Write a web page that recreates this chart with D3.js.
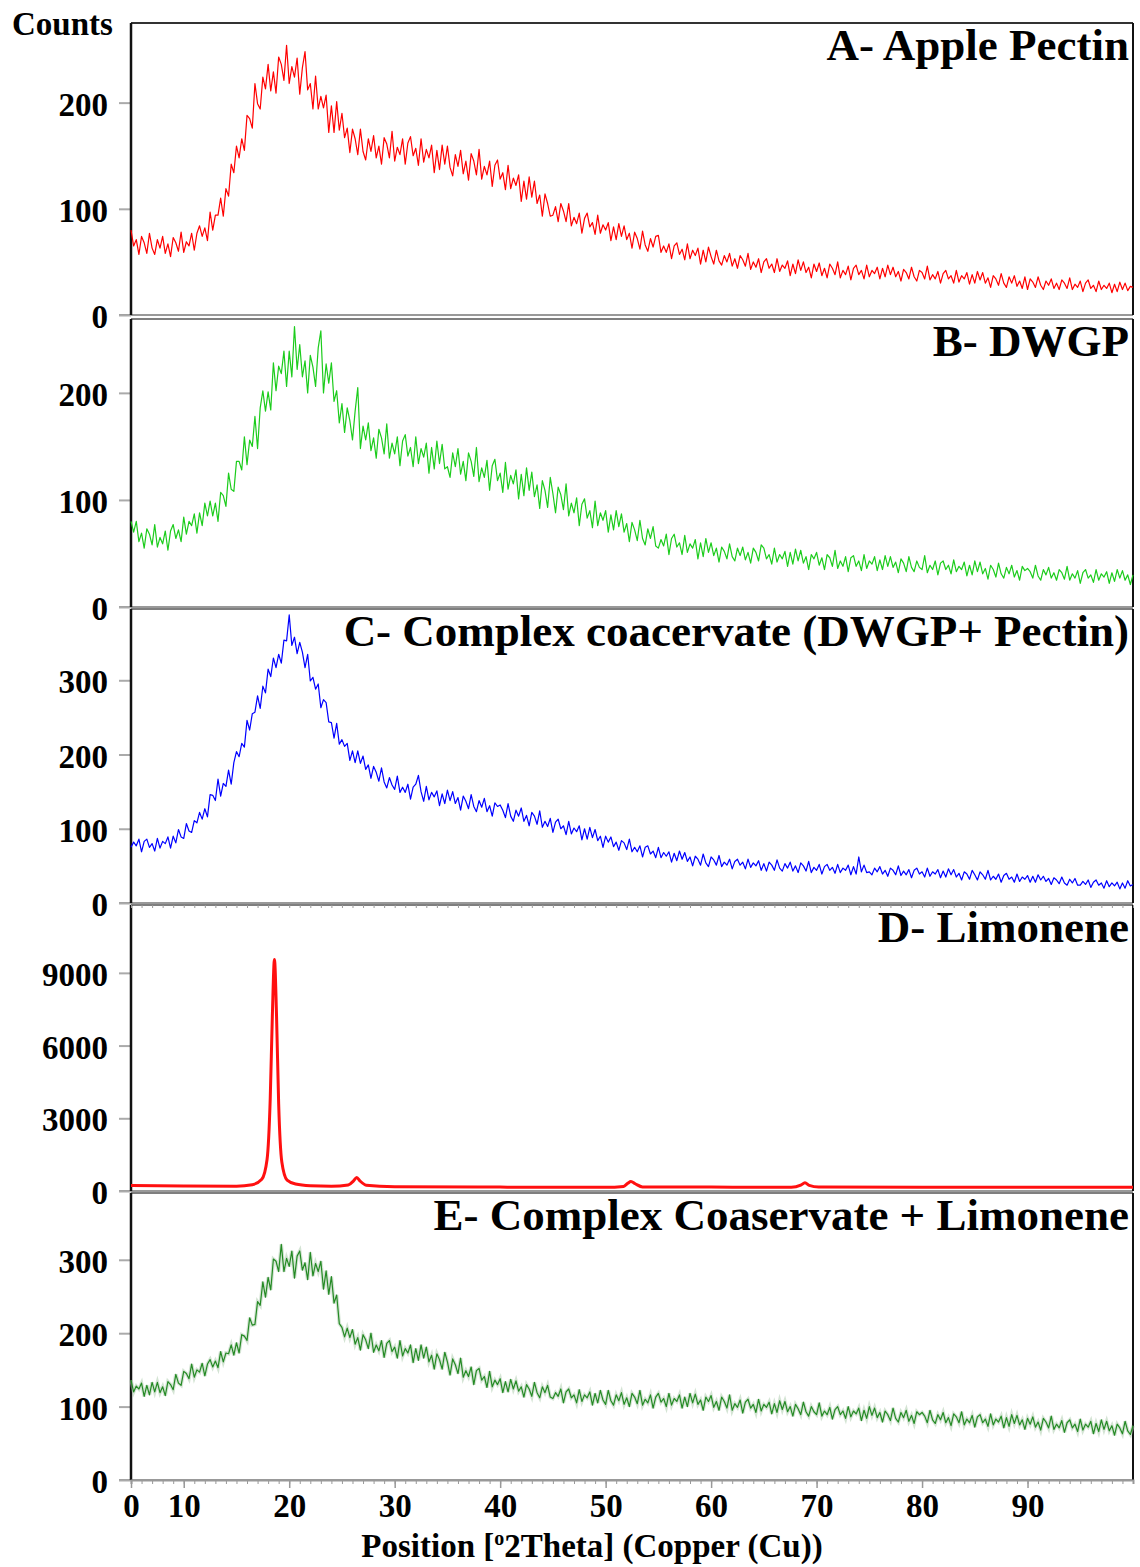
<!DOCTYPE html>
<html>
<head>
<meta charset="utf-8">
<script src="https://cdn.jsdelivr.net/npm/d3@7"></script>
<style>
  body { margin: 0; background: #fff; }
  text { font-family: "Liberation Serif", "Times New Roman", serif; font-weight: bold; fill: #000; }
</style>
</head>
<body>
<svg id="chart" width="1140" height="1567"></svg>
<script>
// scan positions (deg 2theta), one reading every 0.25 deg, 5..100
var angles = d3.range(5, 100.125, 0.25);

// A - apple pectin (one row = 5 deg)
var pectinCounts = [
  80,65,71,57,74,68,58,77,63,57,71,63,74,58,67,55,73,68,60,78,
  59,69,65,77,61,77,84,74,82,70,97,80,94,94,110,93,119,112,142,134,
  159,148,166,155,188,185,176,218,199,194,224,213,236,211,229,209,243,236,221,254,
  218,234,224,242,208,233,248,212,218,194,225,194,206,195,207,172,197,172,201,174,
  190,167,176,153,175,166,151,175,154,146,166,154,169,148,159,142,167,161,148,173,
  145,158,151,166,142,162,168,150,157,141,166,144,156,148,160,134,155,137,160,142,
  159,139,131,151,140,155,133,145,127,152,145,132,156,128,140,132,145,121,141,146,
  128,134,118,141,119,129,122,132,107,126,109,130,111,126,105,113,93,114,105,93,
  94,102,88,105,98,88,105,84,92,86,96,77,91,96,83,87,76,94,77,85,
  80,87,70,83,71,86,74,84,71,77,63,78,72,62,79,66,60,72,64,74,
  75,59,65,59,67,53,65,68,57,62,52,67,53,61,56,63,48,61,50,64,
  55,48,61,51,47,56,50,58,46,53,44,56,52,46,58,43,50,45,53,40,
  50,53,44,48,40,53,41,47,44,51,37,48,39,52,42,50,40,45,35,48,
  41,49,37,44,35,48,44,38,50,35,42,38,46,33,44,47,38,42,34,47,
  36,42,39,45,34,44,36,47,38,45,36,41,32,43,40,34,45,36,32,42,
  40,34,46,33,38,34,41,30,39,42,34,37,30,42,31,37,34,40,29,38,
  30,41,33,40,30,35,26,37,34,28,39,30,26,36,30,37,27,32,25,36,
  24,34,31,26,36,28,24,32,28,34,25,30,24,33,30,25,35,24,29,26,
  32,22,30,33,25,28,22,32,24,28,25,30,21,29,22,31,24,30,23,27,
  26
];

// B - DWGP
var dwgpCounts = [
  80,70,80,61,69,55,73,68,58,77,56,65,59,71,53,71,77,64,72,61,
  84,68,80,76,87,69,88,76,97,85,99,85,97,80,107,104,94,125,110,108,
  136,136,128,159,133,156,150,178,148,186,202,183,201,184,228,202,225,218,239,206,
  239,215,262,222,245,215,230,200,235,224,206,242,258,200,227,209,228,192,202,172,
  190,163,186,174,156,183,205,148,169,156,172,146,158,139,166,158,143,171,139,153,
  143,159,132,155,161,141,149,131,159,134,148,140,153,125,149,129,155,134,152,129,
  131,121,144,131,148,124,136,118,144,136,122,149,117,130,121,137,109,132,138,118,
  125,107,135,110,123,115,128,101,124,104,130,109,126,103,114,92,118,109,93,121,
  106,88,112,105,91,115,85,97,88,102,76,96,101,83,90,74,99,76,88,81,
  90,70,86,72,90,75,87,70,78,61,79,72,62,81,64,58,73,64,75,57,
  55,63,57,68,49,64,68,56,60,49,67,51,59,55,63,45,60,47,64,51,
  60,48,55,42,56,52,45,59,47,43,55,48,56,44,51,41,55,51,43,58,
  55,45,49,40,55,42,49,45,52,38,51,40,54,43,53,41,47,35,49,45,
  51,39,46,35,49,46,38,53,36,43,38,47,33,46,48,38,43,34,49,36,
  43,40,47,34,44,35,48,38,47,37,42,32,45,41,33,47,37,33,43,37,
  35,48,32,39,35,43,30,41,43,35,39,31,44,33,38,35,42,29,39,30,
  43,33,42,31,36,26,39,35,28,41,31,27,37,31,39,28,34,25,38,34,
  36,33,27,39,29,25,35,30,37,27,32,25,35,32,26,38,25,31,27,34,
  22,32,35,27,30,23,35,25,31,28,33,22,32,24,35,27,34,25,30,21,
  30
];

// C - complex coacervate (DWGP + pectin)
var coacervateCounts = [
  75,82,77,86,69,83,86,75,80,70,87,74,83,80,89,74,90,81,99,89,
  87,107,97,95,111,108,122,113,127,116,146,145,138,167,144,161,157,179,160,189,
  204,197,215,210,246,233,255,257,279,262,292,283,315,305,330,317,335,323,354,353,
  388,347,358,336,351,338,317,335,299,304,288,295,263,274,270,244,243,222,242,214,
  220,211,215,192,205,189,205,188,198,180,186,168,184,176,164,182,163,155,169,159,
  153,171,149,156,149,160,140,156,160,172,150,137,157,139,149,143,151,131,147,134,
  152,138,150,134,142,125,144,137,127,146,130,123,138,129,141,123,131,117,135,130,
  132,125,115,134,117,110,125,117,128,110,118,104,122,117,106,124,102,110,103,114,
  95,109,113,100,104,92,110,93,101,96,104,85,100,86,102,88,99,84,90,75,
  90,82,89,76,82,71,84,81,72,86,69,75,69,77,62,75,77,66,70,61,
  75,61,68,63,69,55,67,57,70,59,68,56,62,50,63,59,51,66,54,49,
  62,58,51,64,49,55,51,59,46,56,59,51,55,46,59,48,54,50,57,44,
  53,43,55,51,44,58,47,43,53,47,55,43,50,41,54,50,43,56,41,48,
  44,52,39,49,52,44,48,40,52,41,47,44,51,38,49,39,62,42,51,41,
  42,38,47,42,49,39,44,36,47,44,38,50,37,43,38,45,34,44,47,39,
  42,35,47,36,42,39,45,34,43,35,46,38,45,35,40,31,42,39,32,44,
  38,31,42,38,32,44,31,36,32,39,28,37,40,32,35,28,39,29,35,32,
  37,28,36,28,38,31,36,29,33,25,34,31,26,35,27,24,32,27,33,24,
  24,29,25,31,21,28,31,24,27,20,30,22,27,23,28,19,27,20,30,23,
  25
];

// D - limonene (sharp peaks, read at irregular positions)
var limoneneAngles = [5, 10, 15, 16.5, 17.4, 17.9, 18.2, 18.4, 18.6, 18.8,
  19.0, 19.3, 19.8, 20.6, 22, 24, 25.6, 26.1, 26.4, 26.7,
  27.3, 30, 40, 50, 51.7, 52.1, 52.4, 52.8, 53.5, 60,
  67.6, 68.5, 68.9, 69.3, 70.2, 80, 90, 100];
var limoneneCounts = [230, 210, 200, 260, 480, 1300, 3800, 7200, 9550, 7200,
  3600, 1200, 450, 290, 220, 200, 250, 420, 560, 420,
  240, 180, 160, 150, 190, 320, 390, 300, 170, 160,
  150, 240, 340, 230, 160, 150, 150, 150];

// E - complex coacervate + limonene
var coacervateLimoneneCounts = [
  136,120,128,124,132,114,129,116,133,120,133,119,127,115,134,130,123,144,132,129,
  148,145,138,158,140,150,147,159,142,158,164,154,162,153,175,161,173,172,184,170,
  187,173,198,196,190,221,211,212,243,238,270,249,276,259,301,298,284,321,284,302,
  291,312,275,305,312,286,296,273,310,278,295,284,298,260,285,253,277,241,252,213,
  208,195,207,194,205,185,194,177,198,191,179,200,174,184,176,190,167,186,190,175,
  181,166,190,169,179,173,184,160,179,163,184,166,181,161,170,151,172,164,151,174,
  161,143,165,157,145,166,140,149,141,154,130,149,152,136,141,126,148,127,136,130,
  138,119,134,120,137,124,135,121,127,113,130,124,114,133,119,112,127,119,129,113,
  111,119,114,124,105,120,124,112,116,105,123,107,116,112,120,102,118,105,122,109,
  103,122,108,102,116,108,119,103,112,100,118,113,104,122,102,110,105,116,98,113,
  118,106,111,100,118,102,111,107,116,98,113,100,118,105,117,103,109,95,113,107,
  115,99,107,95,113,107,98,116,95,104,99,109,91,106,110,98,103,92,110,94,
  103,99,106,90,104,92,108,96,107,93,100,87,103,97,89,106,93,87,100,93,
  89,105,87,94,89,99,83,96,100,89,94,84,100,86,94,90,98,81,95,84,
  100,88,98,85,92,79,94,89,81,98,84,79,92,85,95,80,88,77,93,89,
  92,87,78,95,82,77,89,82,92,78,85,74,90,86,78,93,75,83,78,88,
  72,86,89,78,83,73,90,75,83,79,87,71,85,73,89,77,88,75,82,69,
  84,76,86,72,79,68,84,79,71,87,69,76,71,81,65,78,82,71,76,66,
  83,68,76,72,80,63,77,66,82,69,80,67,74,61,76,71,63,80,67,62,
  74
];

// x axis ticks (the first tick is labelled 0 in the original figure)
var xTickValues = [5, 10, 20, 30, 40, 50, 60, 70, 80, 90];
var xTickLabels = ["0", "10", "20", "30", "40", "50", "60", "70", "80", "90"];

var panels = [
  {title: "A- Apple Pectin", top: 23, zero: 315, max: 275, ticks: [0, 100, 200],
   color: "#ff0000", width: 1.2, x: angles, counts: pectinCounts},
  {title: "B- DWGP", top: 319, zero: 607, max: 269, ticks: [0, 100, 200],
   color: "#1ccc1c", width: 1.2, x: angles, counts: dwgpCounts},
  {title: "C- Complex coacervate (DWGP+ Pectin)", top: 609, zero: 903, max: 396, ticks: [0, 100, 200, 300],
   color: "#0000ff", width: 1.2, x: angles, counts: coacervateCounts},
  {title: "D- Limonene", top: 905, zero: 1191, max: 11800, ticks: [0, 3000, 6000, 9000],
   color: "#ff1010", width: 3, x: limoneneAngles, counts: limoneneCounts, smooth: true},
  {title: "E- Complex Coaservate + Limonene", top: 1193, zero: 1480, max: 391, ticks: [0, 100, 200, 300],
   color: "#248a24", width: 1.2, x: angles, counts: coacervateLimoneneCounts, halo: true}
];

var svg = d3.select("#chart");
var left = 131, right = 1133;

var x = d3.scaleLinear().domain([5, 100]).range([left, right]);

panels.forEach(function(p, i) {
  var y = d3.scaleLinear().domain([0, p.max]).range([p.zero, p.top]);
  var g = svg.append("g").attr("class", "panel");

  // top border
  g.append("line")
    .attr("x1", left).attr("x2", right)
    .attr("y1", p.top).attr("y2", p.top)
    .attr("stroke", i == 0 ? "#333" : "#555").attr("stroke-width", i == 0 ? 2 : 1.5);

  // zero line
  g.append("line")
    .attr("x1", left - 12).attr("x2", right)
    .attr("y1", p.zero).attr("y2", p.zero)
    .attr("stroke", "#999").attr("stroke-width", 2);

  // y axis
  var yAxis = g.append("g")
    .attr("transform", "translate(" + left + ",0)")
    .call(d3.axisLeft(y).tickValues(p.ticks).tickSize(12).tickPadding(11).tickFormat(d3.format("d")));
  yAxis.select(".domain").remove();
  yAxis.selectAll(".tick line").attr("stroke", "#aaa").attr("stroke-width", 2);
  yAxis.selectAll(".tick text")
    .attr("font-size", 33)
    .attr("font-family", "Liberation Serif, Times New Roman, serif")
    .attr("font-weight", "bold")
    .attr("dy", "0.38em");

  // frame sides
  g.append("line")
    .attr("x1", left).attr("x2", left)
    .attr("y1", p.top).attr("y2", p.zero)
    .attr("stroke", "#111").attr("stroke-width", 2.5);
  g.append("line")
    .attr("x1", right).attr("x2", right)
    .attr("y1", p.top).attr("y2", p.zero)
    .attr("stroke", "#111").attr("stroke-width", 2);

  // the pattern
  var pts = p.x.map(function(a, k) { return [a, p.counts[k]]; });
  var line = d3.line()
    .x(function(d) { return x(d[0]); })
    .y(function(d) { return y(d[1]); })
    .curve(p.smooth ? d3.curveMonotoneX : d3.curveLinear);

  if (p.halo) {
    g.append("path").datum(pts)
      .attr("d", line).attr("fill", "none")
      .attr("stroke", "#a9c9a9").attr("stroke-width", 3.5).attr("opacity", 0.5);
  }
  g.append("path").datum(pts)
    .attr("d", line).attr("fill", "none")
    .attr("stroke", p.color).attr("stroke-width", p.width)
    .attr("stroke-linejoin", "round");

  // title
  g.append("text")
    .attr("x", 1129).attr("y", p.top + 37)
    .attr("text-anchor", "end")
    .attr("font-size", 45)
    .text(p.title);
});

// small ticks hanging under the top of panel D
var dTicks = svg.append("g")
  .attr("transform", "translate(0," + panels[3].top + ")")
  .call(d3.axisBottom(x).tickValues(d3.range(5, 101, 1)).tickSize(3).tickFormat(""));
dTicks.select(".domain").remove();
dTicks.selectAll(".tick line").attr("stroke", "#999");

// bottom axis: minor ticks, then major ticks with labels
var bottom = panels[4].zero;
var minor = svg.append("g")
  .attr("transform", "translate(0," + bottom + ")")
  .call(d3.axisBottom(x).tickValues(d3.range(5, 101, 1)).tickSize(4).tickFormat(""));
minor.select(".domain").attr("stroke", "#999").attr("stroke-width", 2);
minor.selectAll(".tick line").attr("stroke", "#999");

var major = svg.append("g")
  .attr("transform", "translate(0," + bottom + ")")
  .call(d3.axisBottom(x).tickValues(xTickValues).tickSize(8).tickPadding(6)
    .tickFormat(function(d, k) { return xTickLabels[k]; }));
major.select(".domain").remove();
major.selectAll(".tick line").attr("stroke", "#999").attr("stroke-width", 1.5);
major.selectAll(".tick text")
  .attr("font-size", 33)
  .attr("font-family", "Liberation Serif, Times New Roman, serif")
  .attr("font-weight", "bold");

// y title
svg.append("text")
  .attr("x", 12).attr("y", 35)
  .attr("font-size", 33)
  .text("Counts");

// x title
var xt = svg.append("text")
  .attr("x", 592).attr("y", 1557)
  .attr("text-anchor", "middle")
  .attr("font-size", 33);
xt.append("tspan").text("Position [");
xt.append("tspan").attr("font-size", 20).attr("dy", -12).text("o");
xt.append("tspan").attr("dy", 12).text("2Theta] (Copper (Cu))");
</script>
</body>
</html>
